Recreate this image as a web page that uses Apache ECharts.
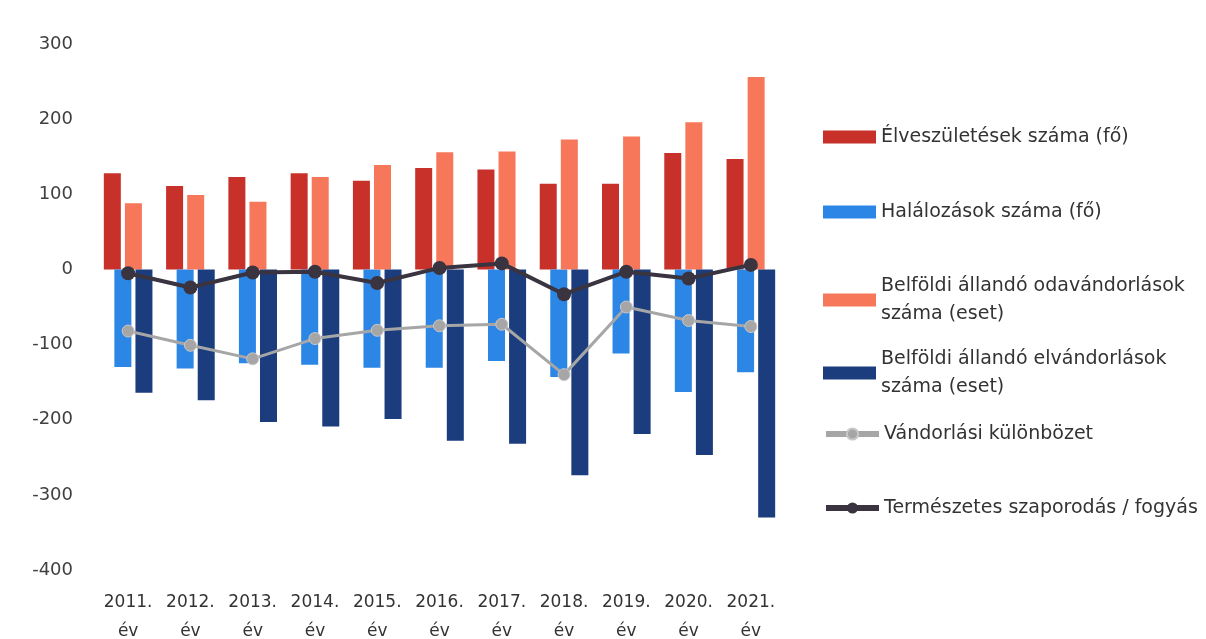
<!DOCTYPE html>
<html>
<head>
<meta charset="utf-8">
<script src="https://cdn.jsdelivr.net/npm/echarts@6/dist/echarts.min.js"></script>
<style>html,body{margin:0;padding:0;background:#fff}#c{width:1206px;height:639px}</style>
</head>
<body>
<div id="c"></div>
<script>
const categories = ['2011.\név','2012.\név','2013.\név','2014.\név','2015.\név','2016.\név','2017.\név','2018.\név','2019.\név','2020.\név','2021.\név'];
const births = [128, 111, 123, 128, 118, 135, 133, 114, 114, 155, 147];
const deaths = [-130, -132, -125, -127, -131, -131, -122, -143, -112, -163, -137];
const inMigration = [88, 99, 90, 123, 139, 156, 157, 173, 177, 196, 256];
const outMigration = [-164, -174, -203, -209, -199, -228, -232, -274, -219, -247, -330];
const migrationBalance = [-82, -101, -119, -92, -81, -75, -73, -140, -50, -68, -76];
const naturalChange = [-5, -24, -4, -3, -18, 2, 8, -33, -3, -12, 6];
const yTicks = [-400, 300, 100];

const names = ['Élveszületések száma (fő)','Halálozások száma (fő)','Belföldi állandó odavándorlások száma (eset)','Belföldi állandó elvándorlások száma (eset)','Vándorlási különbözet','Természetes szaporodás / fogyás'];
const legendLabels = ['Élveszületések száma (fő)','Halálozások száma (fő)','Belföldi állandó odavándorlások\nszáma (eset)','Belföldi állandó elvándorlások\nszáma (eset)','Vándorlási különbözet','Természetes szaporodás / fogyás'];
const legendTops = [118, 193, 253, 326, 415, 489];
const twoLine = [false,false,true,true,false,false];

const font = 'DejaVu Sans, Open Sans, sans-serif';
const chart = echarts.init(document.getElementById('c'), null, {renderer:'canvas'});
const legends = names.map((n,i)=>{
  const l = {
    data:[n], left:818, top:legendTops[i], orient:'vertical',
    itemWidth:53, itemHeight: i<4 ? 13 : 14, itemGap:0,
    formatter: ()=>legendLabels[i],
    textStyle:{fontFamily:font, fontSize:19, color:'#333', lineHeight:28, padding: twoLine[i]?[28,0,0,0]:0},
    selectedMode:false
  };
  if (i<4) l.icon = 'rect';
  else l.lineStyle = {width: 6};
  return l;
});
const bw = 17;
chart.setOption({
  animation:false,
  backgroundColor:'#ffffff',
  legend: legends,
  grid:{left:97, right:424, top:44, bottom:69, containLabel:false, outerBoundsMode:'none'},
  xAxis:{type:'category', data:categories,
    axisLine:{show:false}, axisTick:{show:false},
    axisLabel:{fontFamily:font, fontSize:17, color:'#333', lineHeight:29, margin:18, interval:0}},
  yAxis:{type:'value', min:yTicks[0], max:yTicks[1], interval:yTicks[2],
    axisLine:{show:false}, axisTick:{show:false}, splitLine:{show:false},
    axisLabel:{fontFamily:font, fontSize:18, color:'#404040', margin:24}},
  series:[
    {name:names[0], type:'bar', data:births, barWidth:bw, barGap:'-38%', itemStyle:{color:'#C8302A'}},
    {name:names[1], type:'bar', data:deaths, barWidth:bw, barGap:'-38%', itemStyle:{color:'#2C86E6'}},
    {name:names[2], type:'bar', data:inMigration, barWidth:bw, barGap:'-38%', itemStyle:{color:'#F7775B'}},
    {name:names[3], type:'bar', data:outMigration, barWidth:bw, barGap:'-38%', itemStyle:{color:'#1B3D7D'}},
    {name:names[4], type:'line', data:migrationBalance, symbol:'circle', symbolSize:12,
      lineStyle:{color:'#A6A6A6', width:3}, itemStyle:{color:'#A6A6A6', borderColor:'#C8C8C8', borderWidth:1}, z:5},
    {name:names[5], type:'line', data:naturalChange, symbol:'circle', symbolSize:14,
      lineStyle:{color:'#3A3440', width:4}, itemStyle:{color:'#3A3440'}, z:6}
  ]
});
</script>
</body>
</html>
